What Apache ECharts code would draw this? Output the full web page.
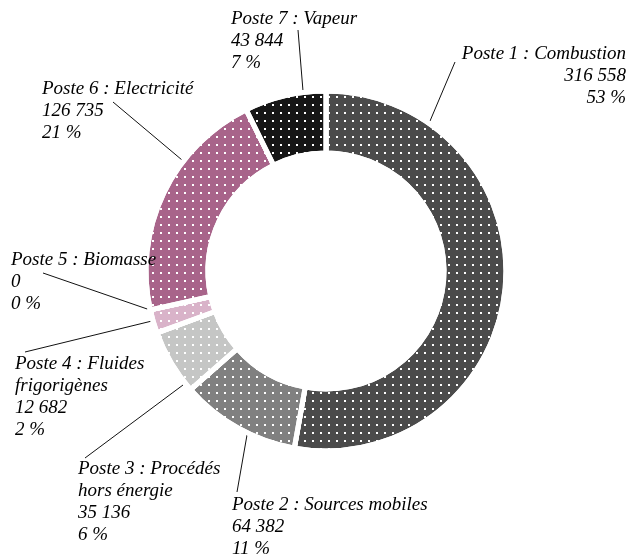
<!DOCTYPE html>
<html>
<head>
<meta charset="utf-8">
<script src="https://cdn.jsdelivr.net/npm/echarts@6/dist/echarts.min.js"></script>
<style>
  html, body { margin: 0; padding: 0; background: #fff; }
  #chart { width: 630px; height: 557px; }
</style>
</head>
<body>
<div id="chart"></div>
<script>
// categories and values
var categories = ['Poste 1 : Combustion', 'Poste 2 : Sources mobiles', 'Poste 3 : Procédés hors énergie',
    'Poste 4 : Fluides frigorigènes', 'Poste 5 : Biomasse', 'Poste 6 : Electricité', 'Poste 7 : Vapeur'];
var labelNames = ['Poste 1 : Combustion', 'Poste 2 : Sources mobiles', 'Poste 3 : Procédés\nhors énergie',
    'Poste 4 : Fluides\nfrigorigènes', 'Poste 5 : Biomasse', 'Poste 6 : Electricité', 'Poste 7 : Vapeur'];
var values = [316558, 64382, 35136, 12682, 0, 126735, 43844];
var colors = ['#4b4b4b', '#808080', '#c5c6c5', '#d9b3c9', '#d9b3c9', '#a8648a', '#161616'];

// where each label sits and where its leader line goes
var labelPlaces = [
    { x: 626, y: 43, align: 'right', line: [[430, 121], [455, 62]] },
    { x: 232, y: 494, align: 'left', line: [[247, 435], [237, 492]] },
    { x: 78, y: 458, align: 'left', line: [[183, 385], [85, 458]] },
    { x: 15, y: 353, align: 'left', line: [[156, 320], [25, 352]] },
    { x: 11, y: 249, align: 'left', line: [[153, 311], [43, 273]] },
    { x: 42, y: 78, align: 'left', line: [[182, 160], [113, 102]] },
    { x: 231, y: 8, align: 'left', line: [[303, 91], [298, 30]] }
];

function fmt(n) {
    return String(n).replace(/\B(?=(\d{3})+(?!\d))/g, ' ');
}

var chart = echarts.init(document.getElementById('chart'));

var data = categories.map(function (c, i) {
    return {
        name: c,
        value: values[i],
        itemStyle: {
            color: colors[i],
            decal: {
                symbol: 'rect',
                symbolSize: 1,
                color: '#ffffff',
                dashArrayX: [2, 6],
                dashArrayY: [2, 6],
                rotation: 0
            }
        },
        label: { align: labelPlaces[i].align }
    };
});

var option = {
    animation: false,
    series: [{
        type: 'pie',
        center: [326, 271],
        radius: [118, 180],
        startAngle: 90,
        clockwise: true,
        percentPrecision: 0,
        avoidLabelOverlap: false,
        itemStyle: {
            borderColor: '#ffffff',
            borderWidth: 5
        },
        label: {
            show: true,
            position: 'outside',
            fontFamily: 'Liberation Serif',
            fontStyle: 'italic',
            fontSize: 19,
            lineHeight: 22,
            color: '#000',
            formatter: function (p) {
                return labelNames[p.dataIndex] + '\n' + fmt(p.value) + '\n' + p.percent + ' %';
            }
        },
        labelLine: {
            show: true,
            lineStyle: { color: '#111', width: 1 }
        },
        labelLayout: function (p) {
            var pl = labelPlaces[p.dataIndex];
            return {
                x: pl.x,
                y: pl.y,
                align: pl.align,
                verticalAlign: 'top',
                labelLinePoints: [pl.line[0], pl.line[1], pl.line[1]]
            };
        },
        data: data
    }]
};

chart.setOption(option);
</script>
</body>
</html>
